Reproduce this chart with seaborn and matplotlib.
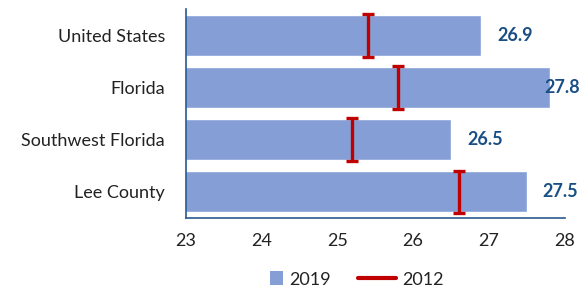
import matplotlib
matplotlib.use("Agg")
import matplotlib.pyplot as plt
import pandas as pd
import seaborn as sns
from matplotlib.lines import Line2D
from matplotlib.patches import Patch, Rectangle
from matplotlib.legend_handler import HandlerPatch

# Data
regions = ["United States", "Florida", "Southwest Florida", "Lee County"]
val_2019 = [26.9, 27.8, 26.5, 27.5]
val_2012 = [25.4, 25.8, 25.2, 26.6]
xticks = [23, 24, 25, 26, 27, 28]

bar_color = "#859FD6"
red = "#C00000"
label_color = "#1A4F86"
spine_color = "#2A5A8C"

sns.set_style("white")
plt.rcParams["font.family"] = ["Lato", "DejaVu Sans"]

df = pd.DataFrame({"region": regions, "v2019": val_2019, "v2012": val_2012})

fig = plt.figure(figsize=(5.84, 2.90), dpi=100)
ax = fig.add_axes([0.318, 0.248, 0.649, 0.721])

sns.barplot(data=df, y="region", x="v2019", color=bar_color, width=0.785,
            saturation=1, ax=ax, orient="h")
ax.set_xlim(23, 28)
ax.set_ylim(3.5, -0.5)

# 2012 markers as I-beams
ax.errorbar(df["v2012"], range(len(df)), yerr=0.41, fmt="none", ecolor=red,
            elinewidth=2.4, capsize=4.2, capthick=2.4, zorder=5)

# value labels
for i, v in enumerate(val_2019):
    x = min(v + 0.21, 27.73)
    ax.text(x, i, f"{v:.1f}", va="center", ha="left", fontsize=13,
            fontweight="bold", color=label_color)

ax.set_xticks(xticks)
ax.set_xlabel("")
ax.set_ylabel("")
ax.tick_params(axis="x", labelsize=13, length=0, pad=11)
ax.tick_params(axis="y", labelsize=13, length=0, pad=15)
for lab in ax.get_xticklabels() + ax.get_yticklabels():
    lab.set_color("#222222")

for s in ["top", "right"]:
    ax.spines[s].set_visible(False)
for s in ["left", "bottom"]:
    ax.spines[s].set_color(spine_color)
    ax.spines[s].set_linewidth(1.2)


def square_patch(legend, orig_handle, xdescent, ydescent, width, height, fontsize):
    size = height * 1.05
    return Rectangle((width - size - xdescent, -ydescent), size, size)


handles = [Patch(facecolor=bar_color, edgecolor="none", label="2019"),
           Line2D([0], [0], color=red, lw=3, label="2012")]
fig.legend(handles=handles, loc="center", bbox_to_anchor=(0.59, 0.036),
           ncol=2, frameon=False, fontsize=13, handlelength=2.1,
           handleheight=0.7, columnspacing=1.5, handletextpad=0.35,
           handler_map={Patch: HandlerPatch(patch_func=square_patch)},
           labelcolor="#222222")

fig.savefig("out.png", dpi=100)
